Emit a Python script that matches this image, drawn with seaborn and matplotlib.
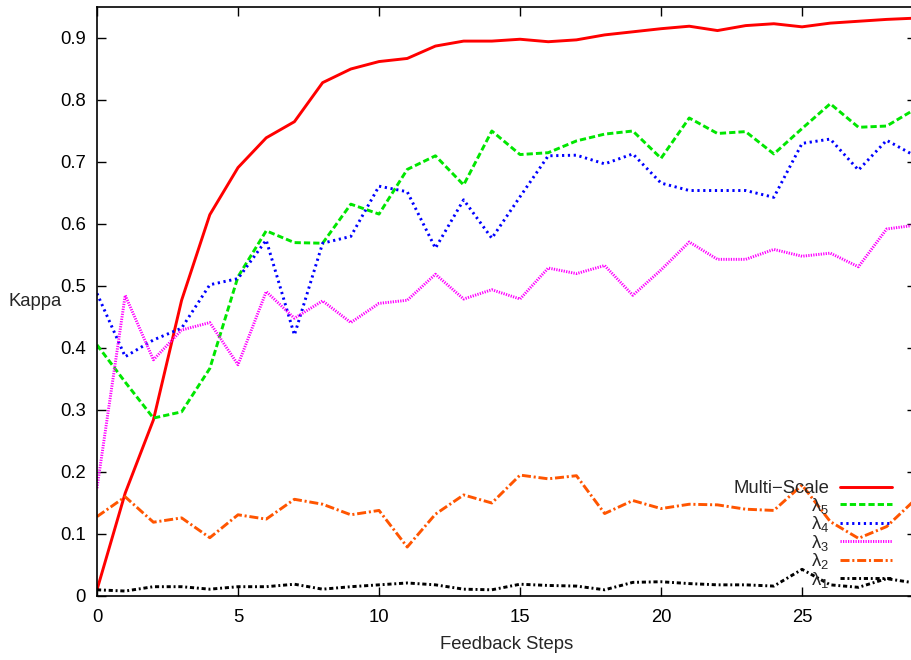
import matplotlib
matplotlib.use("Agg")
import matplotlib.pyplot as plt
import seaborn as sns
import pandas as pd

steps = list(range(30))
multi_scale = [0.010, 0.166, 0.284, 0.477, 0.615, 0.691, 0.739, 0.765, 0.828, 0.850,
               0.862, 0.867, 0.887, 0.895, 0.895, 0.898, 0.894, 0.897, 0.905, 0.910,
               0.915, 0.919, 0.912, 0.920, 0.923, 0.918, 0.924, 0.927, 0.930, 0.932]
lambda5 = [0.405, 0.345, 0.287, 0.297, 0.367, 0.515, 0.589, 0.570, 0.569, 0.632,
           0.616, 0.688, 0.710, 0.663, 0.750, 0.712, 0.715, 0.734, 0.745, 0.750,
           0.706, 0.771, 0.746, 0.749, 0.713, 0.754, 0.794, 0.756, 0.758, 0.785]
lambda4 = [0.488, 0.386, 0.413, 0.432, 0.502, 0.512, 0.574, 0.421, 0.569, 0.580,
           0.661, 0.652, 0.561, 0.639, 0.577, 0.644, 0.710, 0.711, 0.697, 0.713,
           0.666, 0.654, 0.654, 0.654, 0.643, 0.730, 0.737, 0.687, 0.735, 0.710]
lambda3 = [0.174, 0.485, 0.381, 0.429, 0.441, 0.373, 0.491, 0.448, 0.476, 0.441,
           0.472, 0.477, 0.519, 0.479, 0.494, 0.479, 0.529, 0.520, 0.533, 0.485,
           0.526, 0.571, 0.543, 0.543, 0.559, 0.548, 0.553, 0.531, 0.592, 0.598]
lambda2 = [0.128, 0.160, 0.119, 0.126, 0.094, 0.131, 0.124, 0.156, 0.148, 0.131,
           0.138, 0.079, 0.132, 0.163, 0.150, 0.195, 0.189, 0.194, 0.133, 0.154,
           0.141, 0.148, 0.147, 0.140, 0.138, 0.179, 0.120, 0.093, 0.112, 0.155]
lambda1 = [0.010, 0.008, 0.015, 0.015, 0.011, 0.015, 0.015, 0.019, 0.011, 0.015,
           0.018, 0.021, 0.018, 0.011, 0.010, 0.019, 0.017, 0.016, 0.010, 0.022,
           0.023, 0.020, 0.018, 0.018, 0.016, 0.043, 0.018, 0.014, 0.028, 0.021]

series_names = ["Multi\u2212Scale", "\u03bb$_5$", "\u03bb$_4$", "\u03bb$_3$",
                "\u03bb$_2$", "\u03bb$_1$"]
series_values = [multi_scale, lambda5, lambda4, lambda3, lambda2, lambda1]
y_ticks = [0, 0.1, 0.2, 0.3, 0.4, 0.5, 0.6, 0.7, 0.8, 0.9]
y_tick_labels = ["0", "0.1", "0.2", "0.3", "0.4", "0.5", "0.6", "0.7", "0.8", "0.9"]
x_ticks = [0, 5, 10, 15, 20, 25]

colors = ["#ff0000", "#00e600", "#0000ff", "#ff00ff", "#ff5500", "#000000"]
dashes = ["", (4.5, 2.2), (1.6, 2.6), (0.9, 0.9), (6.5, 2.0, 1.5, 2.0), (3.0, 2.0, 1.4, 2.0)]

df = pd.DataFrame({
    "step": steps * len(series_names),
    "kappa": sum(series_values, []),
    "series": sum([[n] * len(steps) for n in series_names], []),
})

sns.set_theme(style="ticks")
plt.rcParams["font.family"] = ["Liberation Sans", "DejaVu Sans"]
plt.rcParams["mathtext.fontset"] = "custom"
plt.rcParams["mathtext.rm"] = "Liberation Sans"
plt.rcParams["mathtext.it"] = "Liberation Sans"
plt.rcParams["mathtext.default"] = "regular"
plt.rcParams["lines.scale_dashes"] = False

FS = 13.3

fig = plt.figure(figsize=(9.12, 6.6), dpi=100)
ax = fig.add_axes([97 / 912, 1 - 596 / 660, 819 / 912, 589 / 660])

sns.lineplot(data=df, x="step", y="kappa", hue="series", style="series",
             hue_order=series_names, style_order=series_names,
             palette=dict(zip(series_names, colors)),
             dashes=dict(zip(series_names, dashes)),
             linewidth=2.1, legend=False, ax=ax)

ax.set_xlim(0, 29.04)
ax.set_ylim(0, 0.95)
ax.set_xticks(x_ticks)
ax.set_xticklabels([str(t) for t in x_ticks])
ax.set_yticks(y_ticks)
ax.set_yticklabels(y_tick_labels)
ax.tick_params(direction="in", length=6.5, width=1.0, top=True, right=True,
               labelsize=FS, colors="black")
ax.tick_params(axis="y", pad=8)
ax.tick_params(axis="x", pad=9)
for s in ax.spines.values():
    s.set_visible(True)
    s.set_linewidth(1.2)
    s.set_color("black")

ax.set_xlabel("Feedback Steps", fontsize=FS)
ax.set_ylabel("Kappa", fontsize=FS, rotation=0, va="center", ha="center")
ax.yaxis.set_label_coords(-0.075, 0.5)
ax.xaxis.set_label_coords(0.5, -0.068)

lines = ax.get_lines()[:len(series_names)]
leg = ax.legend(lines, series_names, loc="upper right",
                bbox_to_anchor=((892 - 97) / 819, (596 - 480) / 589),
                frameon=False, markerfirst=False, fontsize=FS,
                handlelength=2.8, handletextpad=0.6, labelspacing=-0.08,
                borderpad=0, borderaxespad=0)

fig.savefig("out.png", dpi=100)
